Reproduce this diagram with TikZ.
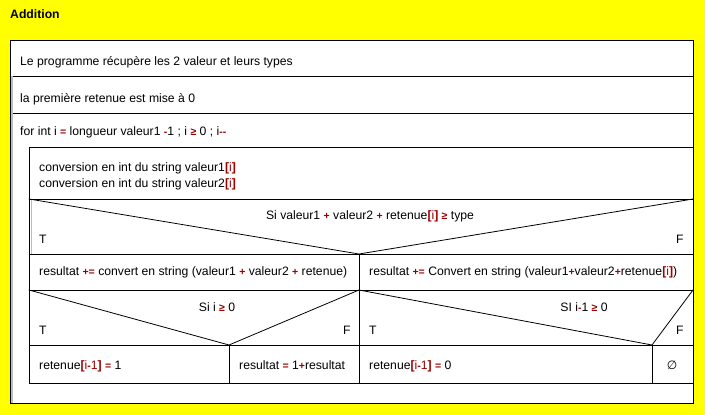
\documentclass[tikz,border=0pt]{standalone}
\usepackage{fontspec}
\setmainfont{Liberation Sans}
\newfontfamily\symfont{DejaVu Sans}
\usepackage{xcolor}
\usepackage{tikz}
\definecolor{bgyellow}{HTML}{FFFF00}
\definecolor{opred}{HTML}{990000}
\definecolor{edge}{HTML}{000000}
\definecolor{bar}{HTML}{BDBDBD}
\newcommand{\op}[1]{\textcolor{opred}{\fontsize{10.5}{13}\selectfont\bfseries #1}}
\newcommand{\idx}[1]{\textcolor{opred}{\textbf{[}#1\textbf{]}}}
\tikzset{
  box/.style={draw=edge, fill=white, line width=0.8pt},
  ln/.style={draw=edge, line width=0.8pt},
  barline/.style={draw=bar, line width=1.2pt},
  txt/.style={anchor=west, inner sep=0pt, text height=9pt, text depth=3pt,
    font=\fontsize{12.2}{14}\selectfont},
  ctxt/.style={inner sep=0pt, text height=9pt, text depth=3pt,
    font=\fontsize{12.2}{14}\selectfont}
}

\begin{document}
\begin{tikzpicture}[x=1pt, y=-1pt, line cap=rect, line join=miter]
  \fill[bgyellow] (0,0) rectangle (705,415);
  \useasboundingbox (0,0) rectangle (705,415);
  % outer frame
  \coordinate (OTL) at (10,40);
  \coordinate (OBR) at (693,403);
  \draw[box] (OTL) rectangle (OBR);
  \node[txt, font=\fontsize{12.2}{14}\selectfont\bfseries] (title) at (10,16) {Addition};
  % plain steps
  \draw[ln] (10,76) -- (693,76);
  \draw[ln] (10,113) -- (693,113);
  \draw[barline] (12,77) -- (12,112);
  \draw[barline] (12,114) -- (12,402);
  \node[txt] (recup) at (20,62) {Le programme récupère les 2 valeur et leurs types};
  \node[txt] (init) at (20,99) {la première retenue est mise à 0};
  % for loop
  \node[txt] (loop) at (20,132) {for int i \op{=} longueur valeur1 \op{-}1 ; i \op{≥} 0 ; i\op{-{}-}};
  \coordinate (LTL) at (29,147);
  \coordinate (LBR) at (693,383);
  \draw[box] (LTL) rectangle (LBR);
  \node[txt] (conv1) at (39,168) {conversion en int du string valeur1\idx{i}};
  \node[txt] (conv2) at (39,184) {conversion en int du string valeur2\idx{i}};
  % first alternative
  \coordinate (A1) at (29,199);
  \coordinate (A2) at (693,199);
  \coordinate (A3) at (359,254);
  \draw[ln] (A1) -- (A2);
  \draw[ln] (29,254) -- (693,254);
  \draw[ln] (A1) -- (A3) -- (A2);
  \draw[barline] (31.5,201) -- (31.5,253);
  \node[ctxt] (cond1) at (370,216) {Si valeur1 \op{+} valeur2 \op{+} retenue\idx{i} \op{≥} type};
  \node[txt] (t1) at (39,240) {T};
  \node[txt] (f1) at (676,240) {F};
  \draw[ln] (A3) -- (359,383);
  % branch T
  \node[txt] (resT) at (39,272) {resultat \op{+=} convert en string (valeur1 \op{+} valeur2 \op{+} retenue)};
  \draw[ln] (29,290) -- (693,290);
  \coordinate (B1) at (29,290);
  \coordinate (B2) at (359,290);
  \coordinate (B3) at (229,345);
  \draw[ln] (B1) -- (B3) -- (B2);
  \draw[ln] (29,345) -- (693,345);
  \node[ctxt] (cond2) at (217,308) {Si i \op{≥} 0};
  \node[txt] (t2) at (39,331) {T};
  \node[txt] (f2) at (343,331) {F};
  \draw[ln] (B3) -- (229,383);
  \node[txt] (ret1) at (39,366) {retenue\idx{i\op{-}1} \op{=} 1};
  \node[txt] (res1) at (239,366) {resultat \op{=} 1\op{+}resultat};
  % branch F
  \node[txt] (resF) at (369,272) {resultat \op{+=} Convert en string (valeur1\op{+}valeur2\op{+}retenue\idx{i})};
  \coordinate (C1) at (359,290);
  \coordinate (C2) at (693,290);
  \coordinate (C3) at (652,345);
  \draw[ln] (C1) -- (C3) -- (C2);
  \node[ctxt] (cond3) at (584,308) {SI i\op{-}1 \op{≥} 0};
  \node[txt] (t3) at (369,331) {T};
  \node[txt] (f3) at (676,331) {F};
  \draw[ln] (C3) -- (652,383);
  \node[txt] (ret0) at (369,366) {retenue\idx{i\op{-}1} \op{=} 0};
  \node[ctxt] (empty) at (672,366) {\symfont\fontsize{12}{14}\selectfont\itshape ∅};
\end{tikzpicture}
\end{document}
